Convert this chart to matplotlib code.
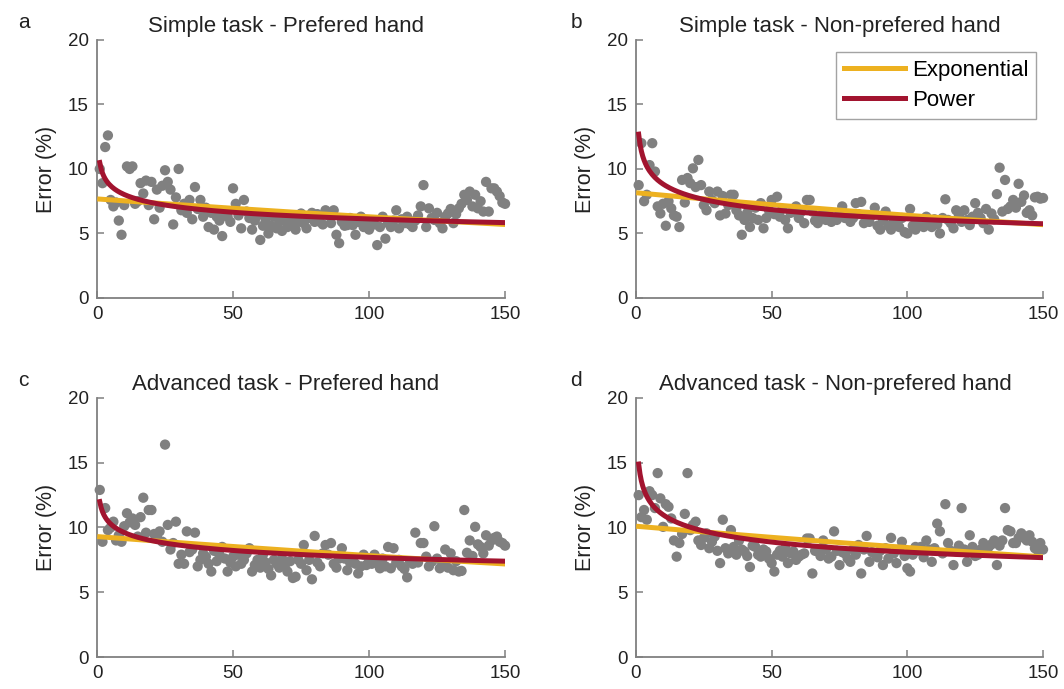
import numpy as np
import matplotlib
matplotlib.use("Agg")
from matplotlib import pyplot as plt

plt.rcParams["font.family"] = ["Liberation Sans", "DejaVu Sans"]

trials = np.arange(1, 151)

err_simple_pref = [
    10.0, 8.9, 11.7, 12.6, 7.6, 7.1, 7.4, 6.0, 4.9, 7.2,
    10.2, 10.0, 10.2, 7.3, 7.5, 8.9, 8.1, 9.1, 7.2, 9.0,
    6.1, 8.4, 7.0, 8.7, 9.9, 9.0, 8.4, 5.7, 7.8, 10.0,
    6.8, 7.3, 6.6, 7.6, 6.1, 8.6, 6.9, 7.6, 6.3, 7.0,
    5.5, 6.6, 5.3, 6.3, 6.0, 4.8, 6.4, 6.3, 5.9, 8.5,
    7.3, 6.4, 5.4, 7.6, 6.7, 6.2, 5.3, 6.0, 6.4, 4.5,
    5.6, 6.05, 5.0, 5.6, 6.3, 5.4, 5.9, 5.2, 6.0, 5.5,
    6.05, 5.8, 5.3, 5.9, 6.55, 5.8, 5.4, 6.2, 6.6, 5.9,
    6.5, 5.9, 5.7, 6.8, 6.4, 5.8, 6.8, 4.9, 4.25, 5.9,
    5.6, 5.65, 6.2, 5.65, 4.9, 5.9, 6.3, 5.5, 5.8, 5.3,
    6.0, 5.7, 4.1, 5.5, 6.3, 4.6, 5.8, 5.5, 6.0, 6.8,
    5.4, 6.1, 5.8, 6.3, 5.7, 5.5, 6.0, 6.4, 7.1, 8.75,
    5.5, 6.95, 6.2, 6.05, 6.6, 5.8, 5.4, 6.3, 6.55, 6.9,
    5.8, 6.5, 6.95, 7.3, 8.0, 7.6, 8.25, 7.1, 8.0, 6.95,
    7.5, 6.7, 9.0, 6.7, 8.5, 8.5, 8.25, 7.9, 7.4, 7.3,
]

err_simple_nonpref = [
    8.75, 12.0, 7.5, 8.0, 10.3, 12.0, 9.8, 7.1, 6.55, 7.3,
    5.6, 7.5, 6.95, 6.4, 6.3, 5.5, 9.15, 7.4, 9.3, 8.9,
    10.05, 8.6, 10.7, 8.75, 7.2, 6.8, 8.25, 7.6, 7.35, 8.25,
    6.4, 7.9, 6.55, 7.2, 8.0, 8.0, 6.8, 6.4, 4.9, 6.05,
    6.6, 5.5, 6.2, 7.0, 6.05, 7.35, 5.4, 6.2, 6.8, 7.6,
    6.5, 7.85, 6.3, 6.9, 6.05, 5.4, 6.6, 6.8, 7.1, 6.2,
    6.7, 5.8, 7.6, 7.6, 6.7, 6.0, 5.8, 6.3, 6.6, 6.05,
    6.5, 5.9, 6.2, 6.05, 6.6, 7.1, 6.2, 6.4, 5.9, 6.2,
    7.35, 6.5, 7.45, 5.8, 6.2, 5.9, 6.4, 7.0, 5.6, 5.3,
    6.0, 6.7, 5.6, 5.3, 6.0, 5.9, 5.5, 6.2, 5.1, 5.0,
    6.9, 5.6, 5.3, 6.0, 5.8, 5.5, 6.3, 5.7, 5.5, 6.1,
    5.7, 5.0, 6.2, 7.65, 6.05, 5.8, 5.4, 6.8, 6.4, 5.9,
    6.8, 6.05, 5.65, 6.3, 7.35, 6.6, 6.2, 5.8, 6.9, 5.3,
    6.55, 6.1, 8.05, 10.1, 6.7, 9.15, 6.9, 7.1, 7.6, 7.0,
    8.85, 7.45, 7.95, 6.6, 6.8, 6.4, 7.8, 7.85, 7.7, 7.75,
]

err_adv_pref = [
    12.9, 8.9, 11.5, 9.8, 10.0, 10.45, 9.0, 9.4, 8.9, 10.1,
    11.1, 10.4, 10.7, 10.2, 9.3, 10.8, 12.3, 9.6, 11.35, 11.35,
    9.5, 9.3, 9.7, 8.9, 16.4, 10.2, 8.3, 8.8, 10.45, 7.2,
    7.9, 7.2, 9.7, 8.1, 8.3, 9.6, 7.0, 7.5, 8.0, 7.75,
    7.2, 6.6, 8.2, 7.4, 7.9, 8.5, 7.6, 6.6, 7.3, 7.75,
    7.0, 7.9, 7.2, 7.5, 8.0, 8.4, 6.6, 7.1, 7.5, 6.9,
    7.9, 7.3, 6.8, 6.3, 7.5, 7.2, 6.9, 7.6, 7.0, 6.6,
    7.4, 6.1, 6.2, 7.5, 7.2, 8.65, 6.7, 7.5, 6.0, 9.35,
    7.3, 7.0, 8.0, 8.65, 7.9, 8.8, 7.2, 6.9, 7.6, 8.4,
    7.6, 6.7, 7.3, 7.5, 7.2, 6.45, 7.0, 7.9, 7.1, 7.5,
    7.2, 7.9, 7.4, 6.85, 7.6, 7.0, 8.5, 6.85, 8.4, 7.3,
    7.5, 7.0, 6.8, 6.15, 7.4, 7.2, 9.6, 7.3, 8.8, 8.8,
    7.75, 7.0, 7.35, 10.1, 7.6, 6.85, 7.2, 8.3, 6.9, 8.0,
    6.7, 7.4, 6.6, 6.65, 11.35, 8.05, 9.0, 7.8, 10.05, 8.7,
    8.5, 8.0, 9.4, 8.6, 9.0, 9.2, 9.3, 8.9, 8.8, 8.6,
]

err_adv_nonpref = [
    12.5, 10.8, 11.35, 10.6, 12.8, 12.5, 11.5, 14.2, 12.25, 10.05,
    11.8, 11.6, 10.7, 9.0, 7.75, 8.8, 9.5, 11.05, 14.2, 9.8,
    10.2, 10.45, 9.0, 8.65, 9.2, 9.55, 8.4, 8.9, 9.3, 8.2,
    7.25, 10.6, 8.4, 8.0, 9.8, 8.5, 7.9, 9.0, 8.3, 8.15,
    7.8, 6.95, 8.6, 8.5, 7.9, 7.75, 8.3, 8.15, 7.6, 7.25,
    6.6, 7.9, 8.2, 7.75, 8.4, 7.25, 8.0, 8.15, 7.5, 7.75,
    7.9, 8.0, 9.15, 9.15, 6.45, 8.2, 8.15, 7.8, 9.0, 8.3,
    7.6, 7.75, 9.7, 8.2, 7.1, 8.1, 8.0, 7.6, 7.35, 8.3,
    7.9, 8.65, 6.45, 8.3, 9.35, 7.35, 8.1, 8.0, 7.7, 8.2,
    7.1, 8.4, 7.6, 9.2, 8.0, 7.25, 8.3, 8.9, 7.8, 6.85,
    6.6, 7.9, 8.5, 8.2, 8.5, 7.7, 9.0, 8.3, 7.35, 8.4,
    10.3, 9.7, 8.0, 11.8, 8.8, 8.2, 7.1, 8.15, 8.6, 11.5,
    8.3, 7.35, 9.4, 8.5, 7.8, 7.9, 8.3, 8.8, 8.2, 8.5,
    8.7, 9.0, 7.1, 8.6, 9.0, 11.5, 9.8, 9.7, 8.8, 8.8,
    9.2, 9.55, 9.2, 9.0, 9.4, 8.9, 8.4, 8.25, 8.8, 8.3,
]

# fitted model parameters (y = a * exp(b * x), y = a * x ** b)
exp_params = [(7.68, -0.00199), (8.16, -0.00241), (9.3, -0.00172), (10.1, -0.00178)]
pow_params = [(10.5, -0.117), (12.7, -0.158), (12.0, -0.0965), (14.9, -0.1325)]

titles = [
    "Simple task - Prefered hand",
    "Simple task - Non-prefered hand",
    "Advanced task - Prefered hand",
    "Advanced task - Non-prefered hand",
]
letters = ["a", "b", "c", "d"]
series = [err_simple_pref, err_simple_nonpref, err_adv_pref, err_adv_nonpref]

EXP_COLOR = "#EDB120"
POW_COLOR = "#A2142F"
AX_COLOR = "#808080"
TXT = "#222222"

fig = plt.figure(figsize=(10.64, 6.89), dpi=100)
positions = [
    [0.0912, 0.5675, 0.3835, 0.3745],
    [0.5977, 0.5675, 0.3826, 0.3745],
    [0.0912, 0.0464, 0.3835, 0.3760],
    [0.5977, 0.0464, 0.3826, 0.3760],
]
title_x = [0.463, 0.5, 0.463, 0.49]
letter_pos = [(0.017, 0.968), (0.536, 0.968), (0.017, 0.448), (0.536, 0.448)]

xfit = np.linspace(1, 150, 300)
for i in range(4):
    ax = fig.add_axes(positions[i])
    ax.scatter(trials, series[i], s=55, color="#808080", edgecolors="none",
               zorder=2, clip_on=False)
    a, b = exp_params[i]
    ax.plot(xfit, a * np.exp(b * xfit), color=EXP_COLOR, lw=3.6, label="Exponential", zorder=3)
    a, b = pow_params[i]
    ax.plot(xfit, a * xfit ** b, color=POW_COLOR, lw=3.6, label="Power", zorder=4)

    ax.set_xlim(0, 150)
    ax.set_ylim(0, 20)
    ax.set_xticks([0, 50, 100, 150])
    ax.set_yticks([0, 5, 10, 15, 20])
    ax.spines["top"].set_visible(False)
    ax.spines["right"].set_visible(False)
    for s in ["left", "bottom"]:
        ax.spines[s].set_color(AX_COLOR)
        ax.spines[s].set_linewidth(1.3)
    ax.tick_params(direction="in", length=5, width=1.1, color=AX_COLOR,
                   labelsize=13.5, labelcolor=TXT, pad=6)
    ax.set_ylabel("Error (%)", fontsize=15.5, color=TXT, labelpad=8)
    ax.set_title(titles[i], fontsize=16, color=TXT, pad=6, x=title_x[i])
    fig.text(letter_pos[i][0], letter_pos[i][1], letters[i], fontsize=15,
             color=TXT, va="center")

    if i == 1:
        leg = ax.legend(loc="upper right", bbox_to_anchor=(0.983, 0.953),
                        borderaxespad=0, fontsize=16, handlelength=2.75,
                        frameon=True, fancybox=False, borderpad=0.35,
                        labelspacing=0.4, handletextpad=0.3)
        leg.get_frame().set_edgecolor("#8c8c8c")
        leg.get_frame().set_linewidth(1.0)

fig.savefig("out.png", dpi=100)
